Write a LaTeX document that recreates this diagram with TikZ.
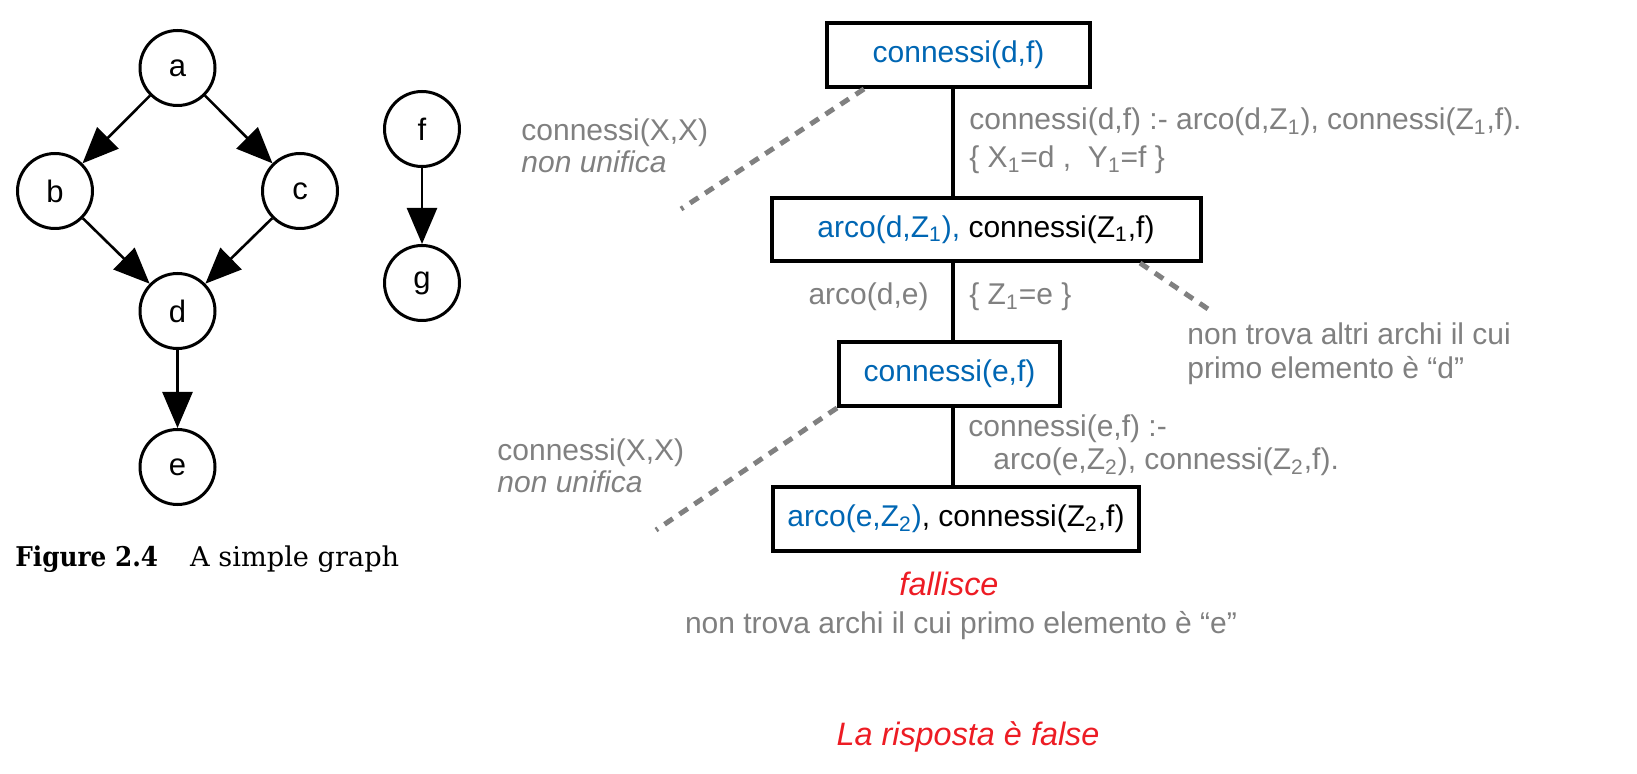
\documentclass[tikz,border=0pt]{standalone}
\usepackage{fontspec}
\setmainfont{Liberation Sans}
\newfontfamily\capfont{DejaVu Serif}
\usetikzlibrary{arrows.meta}
\definecolor{qblue}{RGB}{0,102,179}
\definecolor{qgray}{RGB}{128,128,128}
\definecolor{qred}{RGB}{237,28,36}
\newcommand\txtsz{\fontsize{15}{18}\selectfont}
\newcommand\redsz{\fontsize{16.2}{19}\selectfont}
\begin{document}
\begin{tikzpicture}[x=0.5pt,y=-0.5pt,
  gnode/.style={circle, draw, line width=1.5pt, minimum size=37.5pt, inner sep=0pt, font=\fontsize{15.5}{17}\selectfont},
  garrow/.style={line width=1.3pt, -{Triangle[length=18pt,width=15pt]}},
  goal/.style={draw, line width=2pt, inner sep=0pt, font=\txtsz},
  spine/.style={line width=2pt},
  note/.style={text=qgray, font=\txtsz, inner sep=0pt, text height=11pt, text depth=3.2pt},
  rednote/.style={text=qred, font=\redsz\itshape, inner sep=0pt, text height=11.5pt, text depth=3.5pt},
  failline/.style={draw=qgray, line width=2.5pt, dash pattern=on 5pt off 4pt},
]
\useasboundingbox (0,0) rectangle (1637,774);

% simple graph
\node[gnode] (a) at (177.5,68) {a};
\node[gnode] (b) at (55,191) {b};
\node[gnode] (c) at (300,191) {c};
\node[gnode] (d) at (177.5,311) {d};
\node[gnode] (e) at (177.5,467) {e};
\node[gnode] (f) at (422,129) {f};
\node[gnode] (g) at (422,283) {g};
\draw[garrow] (a) -- (b);
\draw[garrow] (a) -- (c);
\draw[garrow] (b) -- (d);
\draw[garrow] (c) -- (d);
\draw[garrow] (d) -- (e);
\draw[garrow] (f) -- (g);
\node[anchor=base west, inner sep=0pt, font=\capfont\fontsize{13.6}{16}\selectfont] (cap) at (15,567) {\scalebox{0.91}[1]{\textbf{Figure 2.4}}\hspace{16pt}A simple graph};

% resolution tree
\node[goal, minimum width=131.5pt, minimum height=32pt, text=qblue] (q1) at (958.5,55) {connessi(d,f)};
\node[goal, minimum width=214.5pt, minimum height=31.5pt] (q2) at (986,229.5) {\textcolor{qblue}{arco(d,Z\textsubscript{1}),} connessi(Z\textsubscript{1},f)};
\node[goal, minimum width=110.5pt, minimum height=32pt, text=qblue] (q3) at (949.5,374) {connessi(e,f)};
\node[goal, minimum width=183pt, minimum height=32pt] (q4) at (956,519) {\textcolor{qblue}{arco(e,Z\textsubscript{2})}, connessi(Z\textsubscript{2},f)};

\coordinate (sp) at (953,0);
\draw[spine] (q1.south -| sp) -- (q2.north -| sp);
\draw[spine] (q2.south -| sp) -- (q3.north -| sp);
\draw[spine] (q3.south -| sp) -- (q4.north -| sp);

\node[note, anchor=west] (r1a) at (969,122) {connessi(d,f) :- arco(d,Z\textsubscript{1}), connessi(Z\textsubscript{1},f).};
\node[note, anchor=west] (r1b) at (969,160) {\{ X\textsubscript{1}=d ,\ \ Y\textsubscript{1}=f \}};
\node[note, anchor=west] (n1a) at (521,133) {connessi(X,X)};
\node[note, anchor=west] (n1b) at (521,165) {\itshape non unifica};
\node[note, anchor=east] (ade) at (929,297) {arco(d,e)};
\node[note, anchor=west] (z1) at (969,297) {\{ Z\textsubscript{1}=e \}};
\node[note, anchor=west] (nt1) at (1187,337) {non trova altri archi il cui};
\node[note, anchor=west] (nt2) at (1187,371) {primo elemento è “d”};
\node[note, anchor=west] (r2a) at (968,429) {connessi(e,f) :-};
\node[note, anchor=west] (r2b) at (993,462) {arco(e,Z\textsubscript{2}), connessi(Z\textsubscript{2},f).};
\node[note, anchor=west] (n2a) at (497,453) {connessi(X,X)};
\node[note, anchor=west] (n2b) at (497,485) {\itshape non unifica};
\node[rednote] (fal) at (949,587) {fallisce};
\node[note] (nt3) at (961,626) {non trova archi il cui primo elemento è “e”};
\node[rednote] (ans) at (968,737) {La risposta è false};

\coordinate (d1s) at (864,89);
\coordinate (d1e) at (681,209);
\coordinate (d2s) at (1140,263);
\coordinate (d2e) at (1211,311);
\coordinate (d3e) at (656,530);
\draw[failline] (d1s) -- (d1e);
\draw[failline] (d2s) -- (d2e);
\draw[failline] (q3.south west) -- (d3e);
\end{tikzpicture}
\end{document}
